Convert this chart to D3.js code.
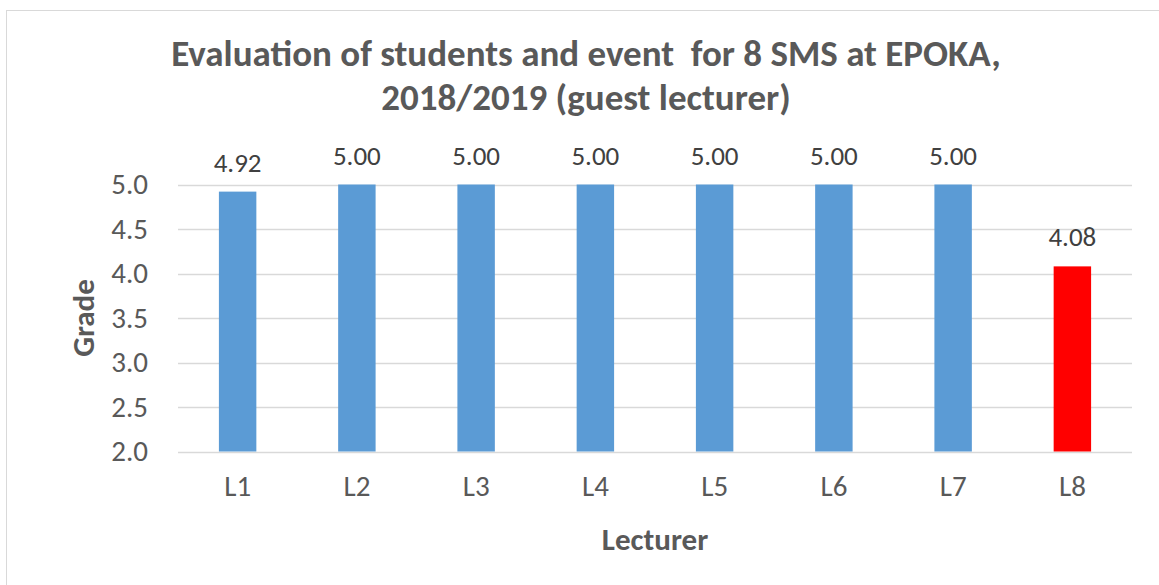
<!DOCTYPE html>
<html>
<head>
<meta charset="utf-8">
<script src="https://cdn.jsdelivr.net/npm/d3@7"></script>
<style>
  html, body { margin: 0; padding: 0; background: #fff; }
  svg { display: block; font-family: Carlito, Lato, "Open Sans", sans-serif; }
</style>
</head>
<body>
<svg id="chart" width="1159" height="585"></svg>
<script>
// Lecturer grades
const lecturers = ["L1", "L2", "L3", "L4", "L5", "L6", "L7", "L8"];
const grades = [4.92, 5.00, 5.00, 5.00, 5.00, 5.00, 5.00, 4.08];
const barColors = ["#5b9bd5", "#5b9bd5", "#5b9bd5", "#5b9bd5", "#5b9bd5", "#5b9bd5", "#5b9bd5", "#ff0000"];
const yTicks = [2.0, 2.5, 3.0, 3.5, 4.0, 4.5, 5.0];
const titleLines = ["Evaluation of students and event  for 8 SMS at EPOKA,", "2018/2019 (guest lecturer)"];
const xTitle = "Lecturer";
const yTitle = "Grade";

const svg = d3.select("#chart");
const plot = { left: 178, right: 1132, top: 184.5, bottom: 451.5 };

// outer chart frame
svg.append("rect")
  .attr("x", 6.5).attr("y", 10.5)
  .attr("width", 1170).attr("height", 585)
  .attr("fill", "#fff").attr("stroke", "#d9d9d9").attr("stroke-width", 1);

const x = d3.scaleBand().domain(lecturers).range([plot.left, plot.right]).paddingInner(0.686).paddingOuter(0.343);
const y = d3.scaleLinear().domain([2, 5]).range([plot.bottom, plot.top]);

// title
const title = svg.append("text")
  .attr("text-anchor", "middle")
  .attr("fill", "#595959")
  .attr("font-weight", "bold")
  .attr("font-size", 37);
title.selectAll("tspan").data(titleLines).join("tspan")
  .attr("x", 586).attr("y", (d, i) => 66 + i * 44)
  .style("white-space", "pre")
  .text(d => d);

// horizontal gridlines
svg.append("g")
  .selectAll("line").data(yTicks).join("line")
  .attr("x1", plot.left).attr("x2", plot.right)
  .attr("y1", d => Math.round(y(d)) + 0.5).attr("y2", d => Math.round(y(d)) + 0.5)
  .attr("stroke", "#d9d9d9").attr("stroke-width", 1.5);

// y axis labels
const yAxis = svg.append("g")
  .attr("transform", `translate(${plot.left},0)`)
  .call(d3.axisLeft(y).tickValues(yTicks).tickFormat(d3.format(".1f")).tickSize(0).tickPadding(30))
  .attr("font-family", null).attr("font-size", 29);
yAxis.select(".domain").remove();
yAxis.selectAll("text").attr("fill", "#595959");

// bars
svg.append("g")
  .selectAll("rect").data(grades).join("rect")
  .attr("x", (d, i) => x(lecturers[i]))
  .attr("width", x.bandwidth())
  .attr("y", d => y(d))
  .attr("height", d => y(2) - y(d))
  .attr("fill", (d, i) => barColors[i]);

// value labels
svg.append("g")
  .selectAll("text").data(grades).join("text")
  .attr("x", (d, i) => x(lecturers[i]) + x.bandwidth() / 2)
  .attr("y", d => y(d) - 20)
  .attr("text-anchor", "middle")
  .attr("fill", "#404040")
  .attr("font-size", 27)
  .text(d => d3.format(".2f")(d));

// x axis labels
const xAxis = svg.append("g")
  .attr("transform", `translate(0,${plot.bottom})`)
  .call(d3.axisBottom(x).tickSize(0).tickPadding(24))
  .attr("font-family", null).attr("font-size", 29);
xAxis.select(".domain").remove();
xAxis.selectAll("text").attr("fill", "#595959");

// axis titles
svg.append("text")
  .attr("x", (plot.left + plot.right) / 2).attr("y", 550)
  .attr("text-anchor", "middle")
  .attr("fill", "#595959").attr("font-weight", "bold").attr("font-size", 31)
  .text(xTitle);

svg.append("text")
  .attr("transform", `translate(94,${(plot.top + plot.bottom) / 2}) rotate(-90)`)
  .attr("text-anchor", "middle")
  .attr("fill", "#595959").attr("font-weight", "bold").attr("font-size", 31)
  .text(yTitle);
</script>
</body>
</html>
